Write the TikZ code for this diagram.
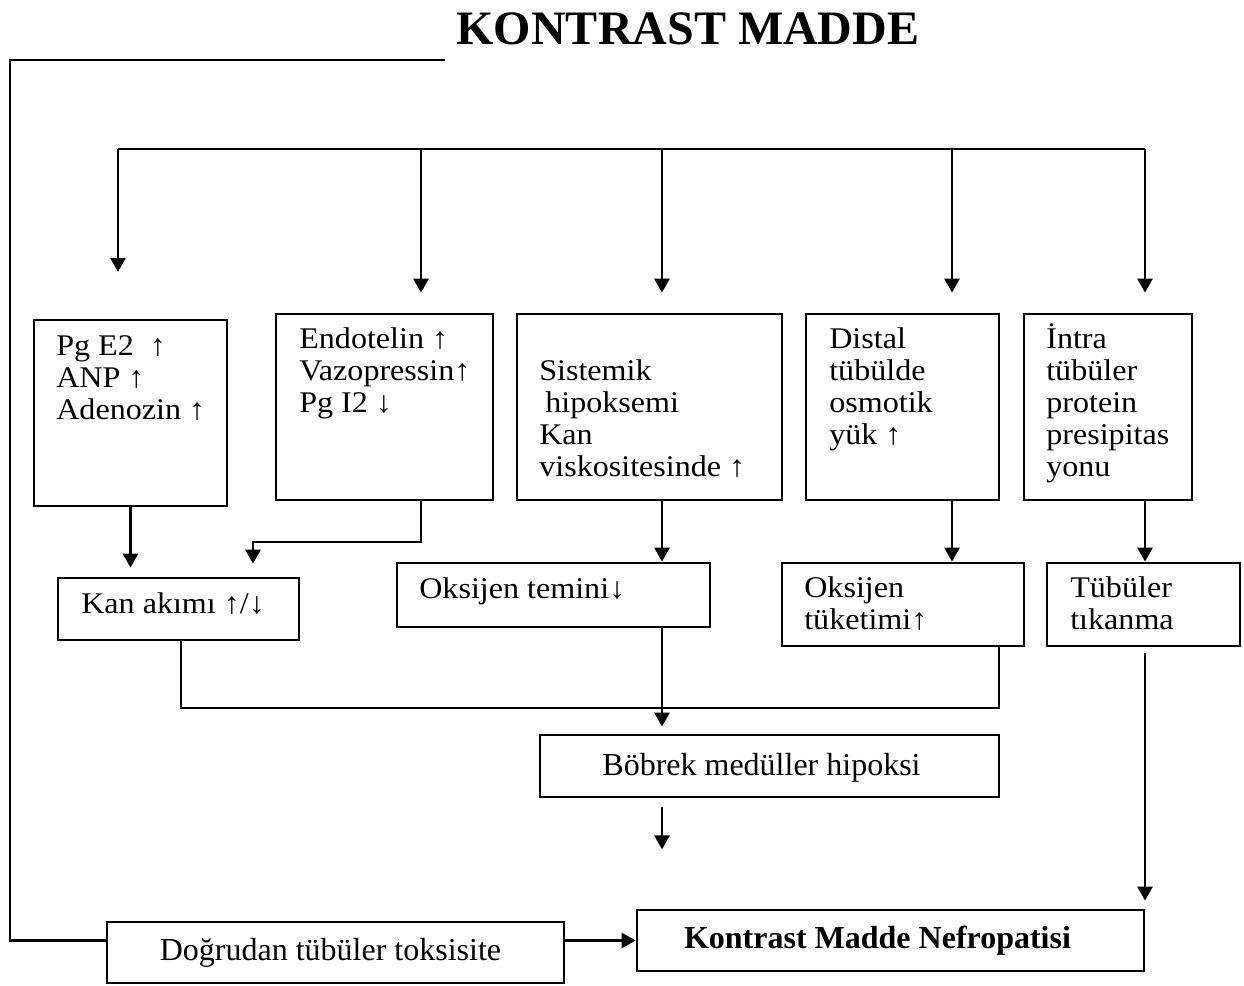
\documentclass[tikz,border=0pt]{standalone}
\usepackage{fontspec}
\setmainfont{Liberation Serif}
\newfontfamily\widefont[FakeStretch=1.07]{Liberation Serif}
\usetikzlibrary{arrows.meta}

\def\busy{149}

\begin{document}
\begin{tikzpicture}[x=1pt,y=-1pt,line width=2.6pt]
    \tikzstyle{box}=[draw,line width=2.8pt,inner sep=0pt]
    \tikzstyle{txt}=[inner sep=0pt,anchor=base west,align=left,font=\widefont\fontsize{30}{32}\selectfont]
    \tikzstyle{line}=[line width=2.6pt]
    \tikzstyle{arr}=[line width=2.6pt,-{Triangle[length=14pt,width=15pt]}]

    \useasboundingbox (0,0) rectangle (1244,985);

    \node[font=\fontsize{48}{50}\selectfont\bfseries] (title) at (688,29) {KONTRAST MADDE};

    \node[box,minimum width=193,minimum height=186] (b1) at (130.5,413) {};
    \node[box,minimum width=217,minimum height=186] (b2) at (384.5,407) {};
    \node[box,minimum width=265,minimum height=186] (b3) at (649.5,407) {};
    \node[box,minimum width=193,minimum height=186] (b4) at (902.5,407) {};
    \node[box,minimum width=168,minimum height=186] (b5) at (1108,407) {};

    \node[txt] (b1-t) at (55,419) {Pg E2~~↑\\ANP ↑\\Adenozin ↑};
    \node[txt] (b2-t) at (298,412) {Endotelin ↑\\Vazopressin↑\\Pg I2 ↓};
    \node[txt] (b3-t) at (538,476) {Sistemik\\\hspace{6pt}hipoksemi\\Kan\\viskositesinde ↑};
    \node[txt] (b4-t) at (828,444) {Distal\\tübülde\\osmotik\\yük ↑};
    \node[txt] (b5-t) at (1045,476) {İntra\\tübüler\\protein\\presipitas\\yonu};

    \node[box,minimum width=241,minimum height=62] (ka) at (178.5,609) {};
    \node[box,minimum width=313,minimum height=64] (ot) at (553.5,595) {};
    \node[box,minimum width=242,minimum height=83] (tk) at (903,604.5) {};
    \node[box,minimum width=193,minimum height=83] (tt) at (1143.5,604.5) {};

    \node[txt] (ka-t) at (80,613) {Kan akımı ↑/↓};
    \node[txt] (ot-t) at (418,598) {Oksijen temini↓};
    \node[txt] (tk-t) at (803,629) {Oksijen\\tüketimi↑};
    \node[txt] (tt-t) at (1069,629) {Tübüler\\tıkanma};

    \node[box,minimum width=459,minimum height=62,font=\fontsize{32}{34}\selectfont,text depth=0pt] (bm) at (769.5,766) {\raisebox{4pt}{Böbrek medüller hipoksi}\hspace{16pt}\null};
    \node[box,minimum width=457,minimum height=61,font=\fontsize{32}{34}\selectfont] (dt) at (335.5,952.5) {Doğrudan tübüler toksisite\hspace{10pt}\null};
    \node[box,minimum width=507,minimum height=61,font=\fontsize{32}{34}\selectfont\bfseries] (km) at (890.5,940.5) {Kontrast Madde Nefropatisi\hspace{26pt}\null};

    \coordinate (top) at (445,60);
    \coordinate (d1) at (118,\busy);
    \coordinate (d2) at (421,\busy);
    \coordinate (d3) at (662,\busy);
    \coordinate (d4) at (952,\busy);
    \coordinate (d5) at (1145,\busy);
    \coordinate (k2) at (253,542);
    \coordinate (jn) at (999,708);

    \draw[line] (top) -- ++(-435,0) |- (dt.west |- km.west);
    \draw[arr] (dt.east |- km.west) -- (km.west);

    \draw[line] (d1) -- (d5);
    \draw[arr] (d1) -- ++(0,123);
    \foreach \d / \b in {d2/b2,d3/b3,d4/b4,d5/b5}
        \draw[arr,shorten >=20pt] (\d) -- (\d |- \b.north);

    \draw[arr,shorten >=9pt] (b1.south) -- (b1.south |- ka.north);
    \draw[arr,shorten >=13pt] (d2 |- b2.south) |- (k2) -- (k2 |- ka.north);
    \draw[arr] (d3 |- b3.south) -- (d3 |- ot.north);
    \draw[arr] (d4 |- b4.south) -- (d4 |- tk.north);
    \draw[arr] (d5 |- b5.south) -- (d5 |- tt.north);

    \draw[line] (ka.south -| 181,0) |- (jn) -- (jn |- tk.south);
    \draw[arr,shorten >=7pt] (d3 |- ot.south) -- (d3 |- bm.north);
    \draw[arr,shorten <=9pt] (d3 |- bm.south) -- ++(0,51);
    \draw[arr,shorten <=6pt,shorten >=8pt] (d5 |- tt.south) -- (d5 |- km.north);
\end{tikzpicture}
\end{document}
